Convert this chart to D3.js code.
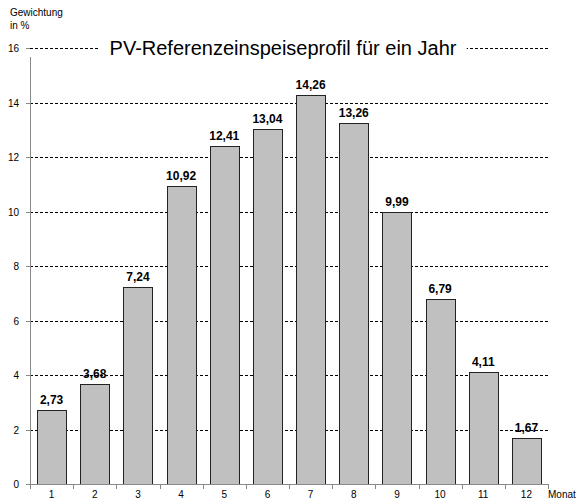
<!DOCTYPE html>
<html><head><meta charset="utf-8">
<script src="https://cdn.jsdelivr.net/npm/d3@7"></script>
<style>body{margin:0;background:#fff;font-family:Arial,"Liberation Sans",sans-serif}</style>
</head><body>
<svg id="c" width="577" height="501"></svg>
<script>
const months = ["1","2","3","4","5","6","7","8","9","10","11","12"];
const values = [2.73,3.68,7.24,10.92,12.41,13.04,14.26,13.26,9.99,6.79,4.11,1.67];
const labels = ["2,73","3,68","7,24","10,92","12,41","13,04","14,26","13,26","9,99","6,79","4,11","1,67"];
const yTicks = [0,2,4,6,8,10,12,14,16];

const svg = d3.select("#c");
const L=30, R=548, T=48, B=484;
const x = d3.scaleBand().domain(months).range([L,R]).paddingInner(0.33).paddingOuter(0.165);
const xb = d3.scaleBand().domain(months).range([L,R]);
const y = d3.scaleLinear().domain([0,16]).range([B,T]);

// gridlines
svg.append("g").selectAll("line").data(yTicks.filter(d=>d>0)).join("line")
  .attr("x1",L).attr("x2",R).attr("y1",d=>Math.round(y(d))+0.5).attr("y2",d=>Math.round(y(d))+0.5)
  .attr("stroke","#000").attr("stroke-width",1).attr("stroke-dasharray","3,2");

// title with white background
const title = svg.append("text").attr("x",283).attr("y",55).attr("text-anchor","middle")
  .attr("font-size",20).attr("fill","#000").text("PV-Referenzeinspeiseprofil für ein Jahr");
const bb = title.node().getBBox();
svg.insert("rect","text").attr("x",bb.x-10).attr("y",bb.y).attr("width",bb.width+20).attr("height",bb.height).attr("fill","#fff");

// y axis line
svg.append("line").attr("x1",L+0.5).attr("x2",L+0.5).attr("y1",57).attr("y2",B).attr("stroke","#888");
// y tick labels
svg.append("g").selectAll("text").data(yTicks).join("text")
  .attr("x",L-11).attr("y",d=>y(d)+4).attr("text-anchor","end").attr("font-size",10).attr("fill","#000").text(d=>d);
// small y ticks
svg.append("g").selectAll("line").data(yTicks).join("line")
  .attr("x1",L-4).attr("x2",L).attr("y1",d=>Math.round(y(d))+0.5).attr("y2",d=>Math.round(y(d))+0.5).attr("stroke","#888");

// bars
svg.append("g").selectAll("rect").data(values).join("rect")
  .attr("x",(d,i)=>Math.round(x(months[i]))+0.5).attr("width",Math.round(x.bandwidth()))
  .attr("y",d=>Math.round(y(d))+0.5).attr("height",d=>B-Math.round(y(d)))
  .attr("fill","#c0c0c0").attr("stroke","#222").attr("stroke-width",1);

// value labels
svg.append("g").selectAll("text").data(values).join("text")
  .attr("x",(d,i)=>x(months[i])+x.bandwidth()/2).attr("y",d=>y(d)-6).attr("text-anchor","middle")
  .attr("font-size",12).attr("font-weight","bold").attr("fill","#000").text((d,i)=>labels[i]);

// x axis
svg.append("line").attr("x1",L).attr("x2",R).attr("y1",B+0.5).attr("y2",B+0.5).attr("stroke","#888");
svg.append("g").selectAll("line").data(months.concat(["end"])).join("line")
  .attr("x1",(d,i)=>Math.round(L+i*xb.bandwidth())+0.5).attr("x2",(d,i)=>Math.round(L+i*xb.bandwidth())+0.5)
  .attr("y1",B).attr("y2",B+5).attr("stroke","#888");
svg.append("g").selectAll("text").data(months).join("text")
  .attr("x",d=>xb(d)+xb.bandwidth()/2).attr("y",B+14).attr("text-anchor","middle")
  .attr("font-size",10).attr("fill","#000").text(d=>d);

svg.append("text").attr("x",548).attr("y",B+14).attr("font-size",10).attr("fill","#000").text("Monat");
svg.append("text").attr("x",10).attr("y",16).attr("font-size",10).attr("fill","#000").text("Gewichtung");
svg.append("text").attr("x",10).attr("y",29).attr("font-size",10).attr("fill","#000").text("in %");
</script>
</body></html>
